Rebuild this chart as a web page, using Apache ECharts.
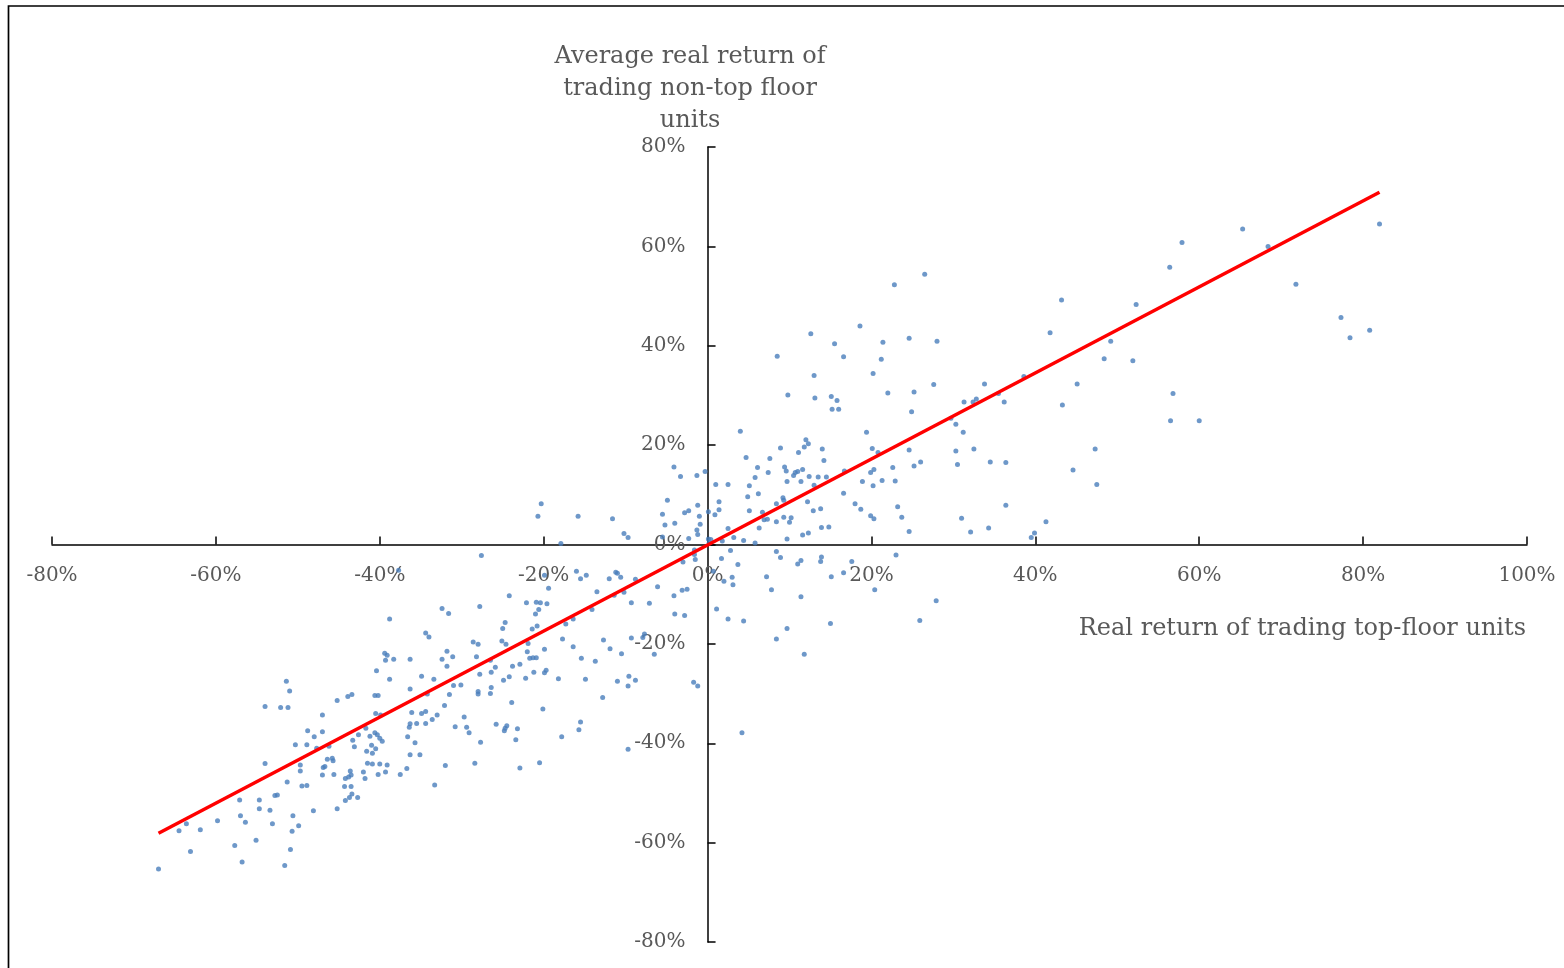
<!DOCTYPE html>
<html>
<head>
<meta charset="utf-8">
<title>Top-floor vs non-top floor real returns</title>
<script src="https://cdn.jsdelivr.net/npm/echarts@6/dist/echarts.min.js"></script>
<style>
  html, body { margin: 0; padding: 0; background: #fff; }
  #main { width: 1564px; height: 968px; }
</style>
</head>
<body>
<div id="main"></div>
<script>
// each pair: [real return of top-floor units %, avg real return of non-top floor units %]
var lowerLeftPairs = [
  [-40.4,-25.4],[-51.4,-27.5],[-51.0,-29.5],[-38.8,-27.1],[-34.9,-26.5],[-33.4,-27.1],[-36.3,-29.1],[-45.2,-31.4],
  [-43.9,-30.6],[-43.4,-30.2],[-40.6,-30.4],[-40.2,-30.4],[-54.0,-32.6],[-52.1,-32.8],[-51.2,-32.8],[-47.0,-34.3],
  [-40.5,-34.0],[-39.9,-34.3],[-36.1,-33.8],[-34.9,-34.0],[-34.4,-33.6],[-33.0,-34.3],[-34.2,-30.1],[-48.8,-37.5],
  [-47.0,-37.7],[-48.0,-38.7],[-50.3,-40.3],[-48.9,-40.3],[-47.7,-41.0],[-46.2,-40.6],[-41.7,-37.0],[-42.6,-38.3],
  [-43.3,-39.4],[-43.1,-40.7],[-41.2,-38.6],[-40.6,-37.9],[-40.3,-38.3],[-40.0,-39.0],[-39.7,-39.6],[-41.0,-40.4],
  [-40.5,-41.1],[-41.6,-41.6],[-40.9,-42.0],[-36.3,-36.1],[-36.4,-36.8],[-35.5,-36.0],[-34.4,-36.0],[-33.6,-35.2],
  [-36.6,-38.7],[-35.7,-39.9],[-36.3,-42.3],[-35.1,-42.3],[-46.4,-43.2],[-45.8,-43.0],[-45.7,-43.5],[-46.7,-44.7],
  [-46.9,-44.9],[-49.7,-44.4],[-49.7,-45.6],[-54.0,-44.1],[-47.0,-46.4],[-45.6,-46.3],[-41.5,-44.0],[-40.9,-44.2],
  [-40.0,-44.2],[-39.1,-44.4],[-42.0,-45.8],[-41.8,-47.1],[-40.2,-46.3],[-39.3,-45.8],[-43.6,-45.6],[-43.5,-46.4],
  [-43.8,-46.8],[-44.2,-47.1],[-44.3,-48.7],[-43.5,-48.7],[-43.4,-50.2],[-43.7,-50.9],[-44.2,-51.5],[-42.7,-50.9],
  [-45.2,-53.2],[-37.5,-46.3],[-36.7,-45.1],[-33.3,-48.4],[-51.3,-47.8],[-49.5,-48.6],[-48.9,-48.5],[-52.8,-50.5],
  [-52.5,-50.4],[-57.1,-51.4],[-54.7,-51.4],[-54.7,-53.2],[-53.4,-53.5],[-48.1,-53.6],[-57.0,-54.6],[-56.4,-55.9],
  [-53.1,-56.2],[-50.6,-54.6],[-49.9,-56.6],[-50.7,-57.7],[-59.8,-55.6],[-61.9,-57.4],[-63.6,-56.2],[-64.5,-57.6],
  [-55.1,-59.5],[-57.7,-60.6],[-63.1,-61.8],[-50.9,-61.4],[-56.8,-63.9],[-51.6,-64.6],[-67.0,-65.3]
];
var midLeftPairs = [
  [-27.6,-2.2],[-37.7,-5.2],[-19.9,-6.2],[-19.4,-8.8],[-32.4,-12.9],[-31.6,-13.9],[-27.8,-12.5],[-24.2,-10.3],
  [-22.1,-11.7],[-20.9,-11.6],[-20.4,-11.7],[-19.6,-11.9],[-20.6,-13.1],[-21.0,-14.0],[-38.8,-15.0],[-24.7,-15.7],
  [-25.0,-16.9],[-20.8,-16.4],[-21.4,-17.0],[-34.4,-17.8],[-34.0,-18.6],[-28.6,-19.6],[-28.0,-20.1],[-25.1,-19.4],
  [-24.6,-20.1],[-21.9,-19.9],[-31.8,-21.5],[-32.4,-23.1],[-31.1,-22.6],[-31.8,-24.5],[-39.4,-21.9],[-39.1,-22.3],
  [-39.3,-23.3],[-38.3,-23.1],[-36.3,-23.1],[-28.2,-22.6],[-26.5,-23.3],[-25.9,-24.7],[-22.9,-24.1],[-23.8,-24.5],
  [-22.0,-21.6],[-21.7,-22.9],[-21.3,-22.8],[-20.9,-22.8],[-19.9,-21.1],[-19.7,-25.3],[-19.9,-25.8],[-21.2,-25.7],
  [-22.2,-26.9],[-24.2,-26.6],[-24.9,-27.3],[-26.4,-25.7],[-27.8,-26.1],[-28.0,-29.6],[-28.0,-30.1],[-26.5,-30.0],
  [-26.4,-28.8],[-23.9,-31.8],[-20.1,-33.1],[-25.8,-36.2],[-24.5,-36.5],[-24.7,-37.0],[-24.8,-37.5],[-23.2,-37.1],
  [-23.4,-39.3],[-27.7,-39.8],[-29.7,-34.7],[-29.4,-36.8],[-29.1,-37.9],[-30.8,-36.7],[-30.1,-28.3],[-31.0,-28.4],
  [-31.5,-30.2],[-32.1,-32.4],[-17.8,-38.7],[-15.7,-37.3],[-9.7,-41.2],[-32.0,-44.5],[-28.4,-44.0],[-22.9,-45.0],
  [-20.5,-43.9],[-15.5,-35.7]
];
var nearZeroPairs = [
  [-20.3,8.2],[-20.7,5.7],[-15.8,5.7],[-11.6,5.2],[-10.2,2.2],[-9.7,1.4],[-4.9,8.9],[-5.5,6.1],[-5.2,3.9],[-5.5,1.5],
  [-4.0,4.3],[-2.8,6.4],[-2.3,6.8],[-1.2,7.9],[-1.0,5.7],[-0.9,4.1],[-1.3,2.9],[-1.2,2.0],[-2.3,1.2],[0.1,6.6],
  [0.9,6.0],[1.4,7.0],[1.4,8.6],[-17.9,0.2],[-16.0,-5.4],[-15.5,-6.9],[-14.8,-6.2],[-13.5,-9.5],[-12.0,-6.9],
  [-11.2,-5.6],[-11.0,-5.8],[-10.6,-6.6],[-8.8,-7.0],[-10.2,-9.6],[-11.4,-10.2],[-6.1,-8.5],[-9.3,-11.7],[-7.1,-11.8],
  [-14.1,-13.1],[-17.3,-16.0],[-16.4,-15.0],[-17.7,-19.0],[-16.4,-20.6],[-15.4,-22.9],[-13.7,-23.5],[-12.7,-19.2],
  [-11.9,-21.0],[-10.5,-22.0],[-9.3,-18.8],[-7.7,-18.0],[-7.9,-18.7],[-6.5,-22.1],[-14.9,-27.1],[-11.0,-27.5],
  [-9.6,-26.5],[-8.8,-27.3],[-9.7,-28.5],[-12.8,-30.8],[-18.2,-27.0],[-4.1,-10.3],[-3.1,-9.2],[-2.5,-9.0],
  [-4.0,-14.0],[-2.8,-14.3],[-3.0,-3.5],[-1.6,-2.0],[-1.5,-3.0],[-1.6,-1.1],[-1.7,-27.7],[-1.2,-28.5],[0.7,-5.4],
  [1.1,-13.0],[0.1,1.1],[0.4,1.0],[0.2,0.3]
];
var midRightPairs = [
  [15.2,27.2],[16.0,27.2],[4.0,22.8],[19.4,22.6],[4.7,17.5],[8.9,19.4],[7.6,17.3],[12.0,21.1],[12.3,20.3],[11.8,19.6],
  [11.1,18.5],[14.0,19.2],[14.2,16.9],[20.1,19.3],[20.8,18.5],[24.6,19.0],[-4.1,15.6],[-3.3,13.7],[-1.3,13.9],
  [-0.3,14.7],[6.1,15.5],[7.4,14.5],[5.8,13.5],[9.4,15.6],[9.6,14.8],[10.5,13.9],[10.7,14.5],[11.0,14.7],[11.6,15.1],
  [12.4,13.7],[13.5,13.6],[14.5,13.6],[19.9,14.5],[20.3,15.1],[22.6,15.5],[16.7,14.8],[1.0,12.1],[2.5,12.1],
  [5.1,11.8],[4.9,9.6],[6.2,10.2],[5.1,6.8],[6.7,6.5],[6.9,5.0],[7.3,5.1],[6.3,3.3],[8.4,8.2],[9.2,9.4],[9.3,8.9],
  [9.7,12.7],[11.4,12.7],[13.0,11.9],[12.2,8.6],[12.9,6.8],[13.8,7.2],[9.3,5.5],[10.2,5.4],[10.0,4.5],[8.4,4.6],
  [9.7,1.1],[11.6,1.9],[12.3,2.3],[13.9,3.4],[14.8,3.5],[5.8,0.3],[4.4,0.8],[3.2,1.4],[2.5,3.2],[1.8,0.7],[16.6,10.3],
  [18.0,8.2],[18.7,7.1],[18.9,12.7],[20.2,11.8],[21.3,12.9],[22.9,12.8],[23.2,7.6],[23.7,5.5],[19.9,5.8],[20.3,5.2],
  [24.6,2.6],[2.8,-1.2],[1.7,-2.8],[3.7,-4.0],[8.4,-1.4],[8.9,-2.6],[11.0,-3.9],[11.4,-3.2],[13.9,-2.5],[13.8,-3.4],
  [17.6,-3.4],[23.0,-2.1],[16.6,-5.7],[15.1,-6.5],[7.2,-6.5],[7.8,-9.1],[11.4,-10.5],[20.4,-9.1],[3.0,-6.6],[3.1,-8.1],
  [2.0,-7.4],[2.5,-15.0],[4.4,-15.4],[9.7,-16.9],[15.0,-15.9],[8.4,-19.0],[11.8,-22.1],[4.2,-37.9],[25.9,-15.3],
  [27.9,-11.3]
];
var upperRightPairs = [
  [26.5,54.4],[22.8,52.3],[18.6,44.0],[12.6,42.4],[15.5,40.4],[21.4,40.7],[24.6,41.5],[28.0,40.9],[8.5,37.9],
  [16.6,37.8],[21.2,37.3],[13.0,34.0],[20.2,34.4],[9.8,30.1],[13.1,29.5],[15.1,29.8],[15.8,29.0],[22.0,30.5],
  [25.2,30.7],[27.6,32.2],[24.9,26.7],[33.8,32.3],[31.3,28.7],[32.4,28.7],[32.8,29.3],[35.5,30.4],[29.7,25.4],
  [30.3,24.2],[31.2,22.6],[30.3,18.8],[32.5,19.2],[65.3,63.5],[57.9,60.8],[56.4,55.8],[68.4,60.0],[82.0,64.5],
  [71.8,52.4],[43.2,49.2],[52.3,48.3],[41.8,42.6],[49.2,40.9],[77.3,45.7],[78.4,41.6],[80.8,43.1],[48.4,37.4],
  [51.9,37.0],[38.6,33.8],[45.1,32.3],[43.3,28.1],[56.8,30.4],[56.5,24.9],[60.0,24.9],[36.2,28.7],[47.3,19.2],
  [44.6,15.0],[47.5,12.1],[36.4,16.5],[34.5,16.6],[30.5,16.1],[26.0,16.6],[25.2,15.8],[36.4,7.9],[31.0,5.3],
  [32.1,2.5],[34.3,3.3],[41.3,4.6],[39.9,2.3],[39.5,1.4]
];
var trendLine = [[-67.0, -58.1], [82.0, 70.9]];
var xRange = [-80, 100];
var yRange = [-80, 80];
var tickStep = 20;

var allPairs = lowerLeftPairs.concat(midLeftPairs, nearZeroPairs, midRightPairs, upperRightPairs);

var serif = "'DejaVu Serif', 'Liberation Serif', serif";
var grey = '#595959';

// grid box in pixels; the two axes are moved onto the zero lines with offset
var gridLeft = 52, gridRight = 37, gridTop = 147, gridBottom = 26;
var plotW = 1564 - gridLeft - gridRight;
var plotH = 968 - gridTop - gridBottom;
var yAxisShift = plotW * (0 - xRange[0]) / (xRange[1] - xRange[0]);
var xAxisShift = plotH * (0 - yRange[0]) / (yRange[1] - yRange[0]);

var chart = echarts.init(document.getElementById('main'));
var option = {
  backgroundColor: '#fff',
  animation: false,
  grid: { left: gridLeft, right: gridRight, top: gridTop, bottom: gridBottom, containLabel: false, outerBoundsMode: 'none' },
  graphic: [{
    type: 'polyline',
    silent: true,
    shape: { points: [[8.5, 968], [8.5, 6], [1564, 6]] },
    style: { stroke: '#000', lineWidth: 1.7, fill: null }
  }],
  xAxis: {
    type: 'value',
    position: 'bottom',
    offset: -xAxisShift,
    min: xRange[0], max: xRange[1], interval: tickStep,
    name: 'Real return of trading top-floor units',
    nameLocation: 'end',
    nameGap: -1,
    nameMoveOverlap: false,
    nameTextStyle: {
      fontFamily: serif, fontSize: 24, color: grey,
      align: 'right', verticalAlign: 'top', lineHeight: 28,
      padding: [70, 0, 0, 0]
    },
    axisLine: { onZero: false, lineStyle: { color: '#000', width: 1.5 } },
    axisTick: { inside: true, length: 8, lineStyle: { color: '#000', width: 1.5 } },
    axisLabel: { formatter: '{value}%', margin: 21, fontFamily: serif, fontSize: 20, color: grey },
    splitLine: { show: false }
  },
  yAxis: {
    type: 'value',
    position: 'left',
    offset: -yAxisShift,
    min: yRange[0], max: yRange[1], interval: tickStep,
    name: 'Average real return of\ntrading non-top floor\nunits',
    nameLocation: 'end',
    nameGap: 10,
    nameMoveOverlap: false,
    nameTextStyle: {
      fontFamily: serif, fontSize: 24, color: grey,
      align: 'center', verticalAlign: 'bottom', lineHeight: 32,
      padding: [0, 35, 0, 0]
    },
    axisLine: { onZero: false, lineStyle: { color: '#000', width: 1.5 } },
    axisTick: { inside: true, length: 8, lineStyle: { color: '#000', width: 1.5 } },
    axisLabel: { formatter: '{value}%', margin: 22, fontFamily: serif, fontSize: 20, color: grey },
    splitLine: { show: false }
  },
  series: [
    {
      type: 'scatter',
      data: allPairs,
      symbol: 'circle',
      symbolSize: 5,
      itemStyle: { color: '#4A7EBB' },
      z: 2
    },
    {
      type: 'line',
      data: trendLine,
      symbol: 'none',
      lineStyle: { color: '#FF0000', width: 3.5 },
      z: 3
    }
  ]
};
chart.setOption(option);
</script>
</body>
</html>
